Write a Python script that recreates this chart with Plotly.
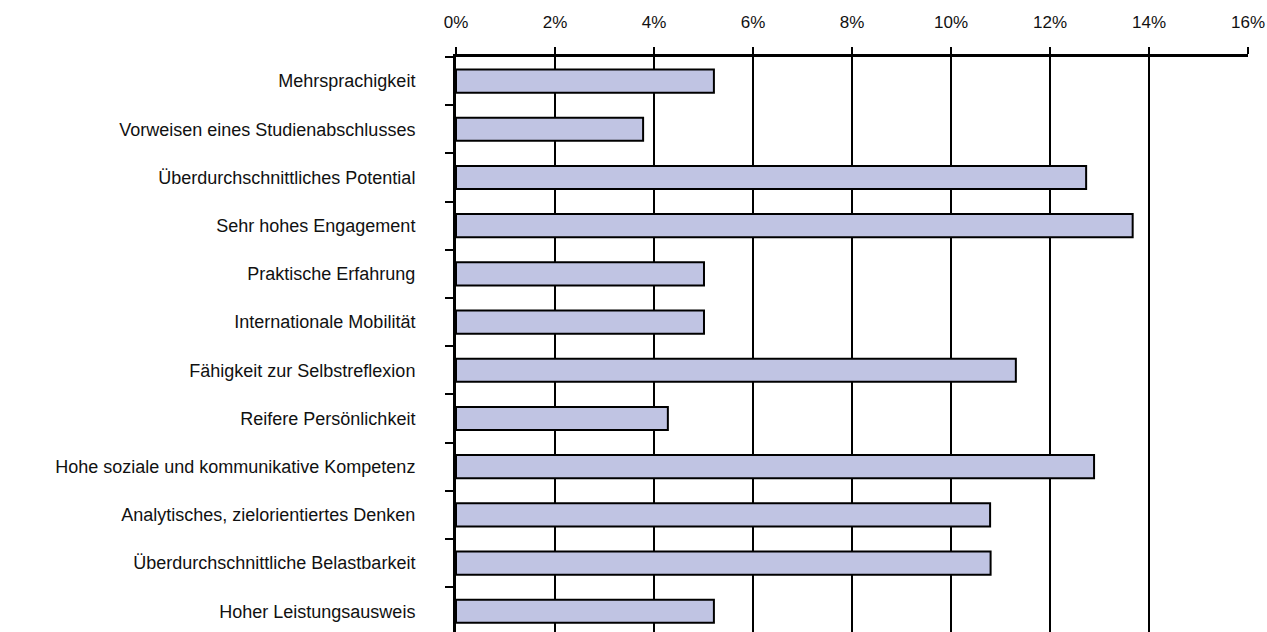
import plotly.graph_objects as go

categories = [
    "Mehrsprachigkeit",
    "Vorweisen eines Studienabschlusses",
    "Überdurchschnittliches Potential",
    "Sehr hohes Engagement",
    "Praktische Erfahrung",
    "Internationale Mobilität",
    "Fähigkeit zur Selbstreflexion",
    "Reifere Persönlichkeit",
    "Hohe soziale und kommunikative Kompetenz",
    "Analytisches, zielorientiertes Denken",
    "Überdurchschnittliche Belastbarkeit",
    "Hoher Leistungsausweis",
]
values = [5.21, 3.78, 12.73, 13.67, 5.01, 5.01, 11.31, 4.28, 12.89, 10.79, 10.80, 5.21]
tick_values = [0, 2, 4, 6, 8, 10, 12, 14, 16]
tick_labels = [f"{v}%" for v in tick_values]

fig = go.Figure(
    go.Bar(
        x=values,
        y=categories,
        orientation="h",
        width=0.48,
        marker=dict(color="#C0C4E3", line=dict(color="#000000", width=2)),
        hoverinfo="x+y",
    )
)

fig.update_layout(
    width=1267,
    height=632,
    margin=dict(l=456, r=19, t=57, b=0),
    paper_bgcolor="white",
    plot_bgcolor="white",
    showlegend=False,
    font=dict(family="Liberation Sans, Arial, sans-serif", size=17, color="#111111"),
    xaxis=dict(
        side="top",
        range=[0, 16],
        tickvals=tick_values,
        ticktext=tick_labels,
        showgrid=True,
        gridcolor="#000000",
        gridwidth=2,
        zeroline=False,
        showline=True,
        linecolor="#000000",
        linewidth=3,
        ticks="outside",
        ticklen=7,
        tickwidth=2,
        tickcolor="#000000",
        ticklabelstandoff=12,
        tickfont=dict(size=17),
    ),
    yaxis=dict(
        type="category",
        categoryorder="array",
        categoryarray=categories,
        range=[11.43, -0.5],
        showgrid=False,
        zeroline=False,
        showline=True,
        linecolor="#000000",
        linewidth=3,
        ticks="outside",
        tickson="boundaries",
        ticklen=8,
        tickwidth=2,
        tickcolor="#000000",
        ticklabelstandoff=34,
        tickfont=dict(size=18),
    ),
)

fig.write_html("out.html")
